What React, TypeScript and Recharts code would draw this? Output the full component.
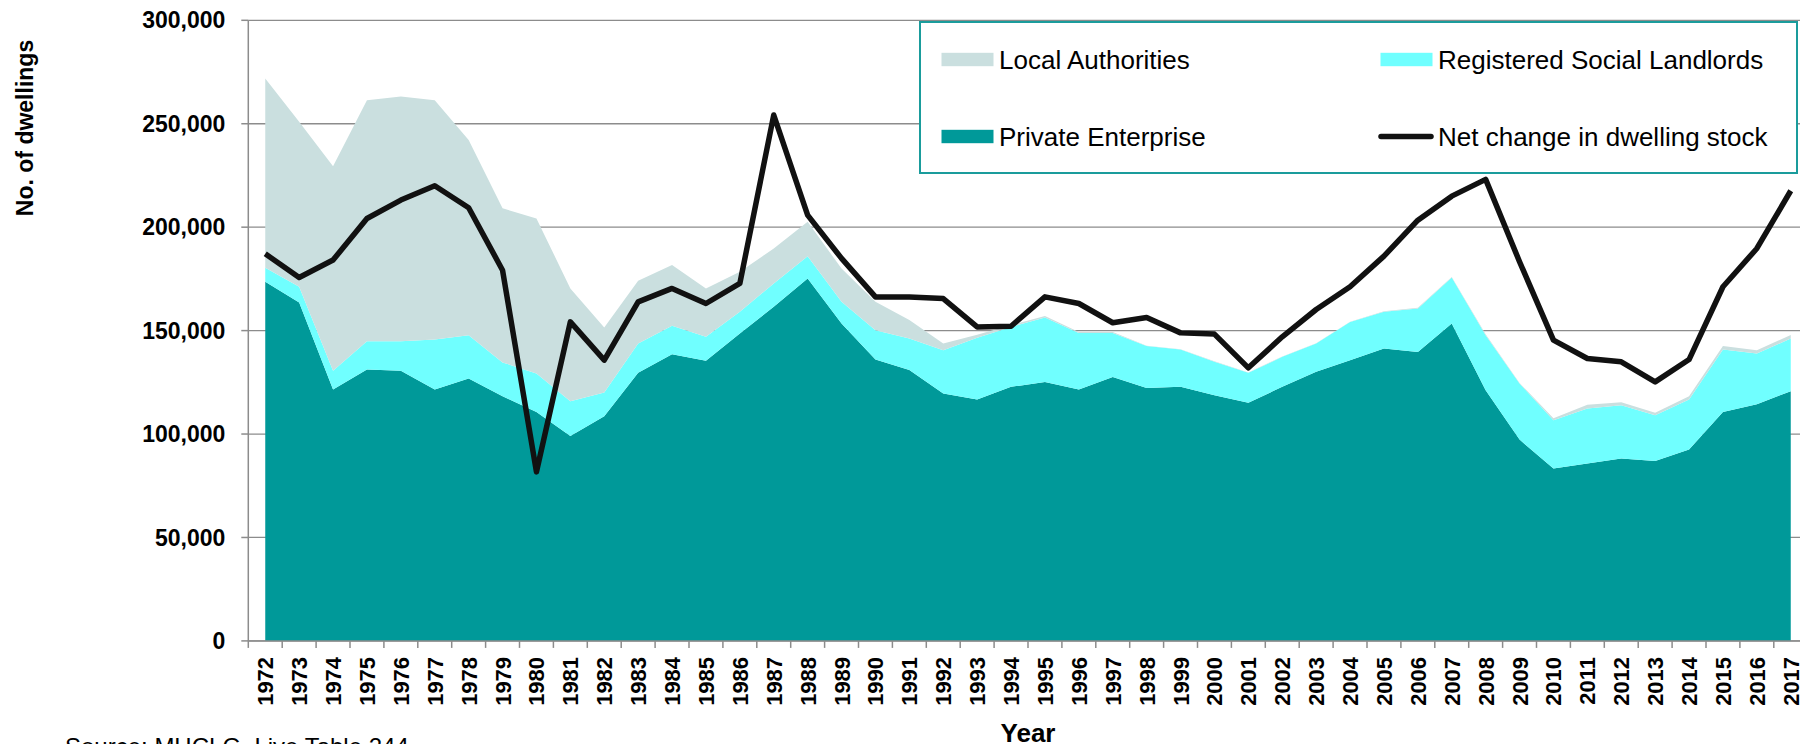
import React from 'react';
import { ComposedChart, Area, Line, XAxis, YAxis, CartesianGrid, Legend, Label } from 'recharts';

const years = [
  '1972', '1973', '1974', '1975', '1976', '1977', '1978', '1979', '1980', '1981', '1982',
  '1983', '1984', '1985', '1986', '1987', '1988', '1989', '1990', '1991', '1992', '1993',
  '1994', '1995', '1996', '1997', '1998', '1999', '2000', '2001', '2002', '2003', '2004',
  '2005', '2006', '2007', '2008', '2009', '2010', '2011', '2012', '2013', '2014', '2015', '2016', '2017',
];

const privateEnterprise = [
  173600, 163600, 121500, 131200, 130600, 121500, 126800, 118300, 110700, 99000, 108600,
  129600, 138600, 135400, 148600, 161500, 175200, 153400, 136000, 130900, 119600, 116700,
  122800, 125200, 121500, 127600, 122300, 122800, 118800, 115100, 122800, 130100, 135700,
  141300, 139700, 153400, 121200, 97300, 83300, 85700, 88200, 87000, 92500, 110700, 114400, 120700,
];

const socialLandlords = [
  6800, 7600, 9100, 13700, 14300, 24200, 21000, 16300, 18600, 16900, 11500,
  14200, 13700, 11600, 10500, 11300, 10800, 10500, 14200, 15300, 20900, 29800,
  29000, 31100, 27400, 21300, 20200, 18100, 16100, 14500, 14500, 13700, 18500,
  17800, 21000, 22300, 26600, 27100, 23400, 26600, 25700, 22100, 24200, 30200, 24500, 25500,
];

const localAuthorities = [
  91500, 79800, 98900, 116400, 118300, 115700, 94300, 74500, 74900, 54500, 31400,
  30300, 29400, 23400, 19300, 16900, 16600, 16100, 13700, 8900, 3300, 1500,
  900, 800, 400, 400, 200, 100, 300, 100, 200, 100, 100,
  200, 300, 200, 400, 300, 900, 1900, 1500, 1200, 1600, 1700, 1600, 1700,
];

const netChange = [
  187100, 175700, 184100, 204200, 213100, 220000, 209400, 179200, 81700, 154200, 135700,
  163900, 170400, 163100, 172800, 254200, 205800, 184900, 166300, 166300, 165500, 151800,
  152100, 166300, 163100, 153800, 156300, 148900, 148300, 132000, 147000, 160200, 171200,
  186000, 203400, 215000, 223100, 183300, 145400, 136500, 134900, 125200, 136000, 171200, 189700, 217600,
];

const yTicks = [0, 50000, 100000, 150000, 200000, 250000, 300000];

const data = years.map((year, i) => ({
  year,
  pe: privateEnterprise[i],
  rsl: socialLandlords[i],
  la: localAuthorities[i],
  net: netChange[i],
}));

const FONT = '"Liberation Sans", Arial, sans-serif';
const GREY = '#8c8c8c';
const CHART_W = 1820;
const CHART_H = 760;
const LEFT = 248.3;
const RIGHT_MARGIN = 12.3;
const BAND = (CHART_W - LEFT - RIGHT_MARGIN) / years.length;

const XTick = (props: any) => {
  const { x, y, payload } = props;
  const bx = x - BAND / 2;
  const ty = y + 16;
  return (
    <g>
      <line x1={bx} y1={y} x2={bx} y2={y + 7} stroke={GREY} strokeWidth={1.5} />
      <text
        x={x}
        y={ty}
        dy={8}
        transform={`rotate(-90 ${x} ${ty})`}
        textAnchor="end"
        fontFamily={FONT}
        fontWeight="bold"
        fontSize={22}
        fill="#000"
      >
        {payload.value}
      </text>
    </g>
  );
};

// legend laid out as in the original: two columns, two rows
const slots: Record<string, { x: number; y: number }> = {
  la: { x: 22.5, y: 38.5 },
  rsl: { x: 461.5, y: 38.5 },
  pe: { x: 22.5, y: 115.5 },
  net: { x: 461.5, y: 115.5 },
};

const renderLegend = (props: any) => {
  const { payload } = props;
  return (
    <svg width={880} height={154} style={{ display: 'block' }}>
      <rect x={1} y={1} width={877} height={151} fill="#fff" stroke="#1a9c9c" strokeWidth={2} />
      {payload.map((entry: any) => {
        const s = slots[entry.dataKey];
        if (!s) return null;
        return (
          <g key={entry.dataKey}>
            {entry.dataKey === 'net' ? (
              <line x1={462} y1={s.y} x2={512} y2={s.y} stroke={entry.color} strokeWidth={5.5} strokeLinecap="round" />
            ) : (
              <rect x={s.x} y={s.y - 6.7} width={52} height={13.4} fill={entry.color} />
            )}
            <text x={s.x + 57.5} y={s.y + 9} fontFamily={FONT} fontSize={26} fill="#000">
              {entry.value}
            </text>
          </g>
        );
      })}
    </svg>
  );
};

export default function App() {
  return (
    <div style={{ position: 'absolute', left: 0, top: 0, width: 1800, height: 744, overflow: 'hidden', background: '#fff' }}>
      <ComposedChart
        width={CHART_W}
        height={CHART_H}
        data={data}
        margin={{ top: 20.3, right: RIGHT_MARGIN, left: 0, bottom: 19.1 }}
      >
        <CartesianGrid vertical={false} stroke={GREY} strokeWidth={1.3} />
        <XAxis
          dataKey="year"
          scale="band"
          interval={0}
          height={100}
          tickSize={0}
          tickMargin={0}
          tickLine={false}
          axisLine={{ stroke: GREY, strokeWidth: 1.5 }}
          tick={<XTick />}
        >
          <Label
            content={() => (
              <text x={1028} y={741.5} textAnchor="middle" fontFamily={FONT} fontWeight="bold" fontSize={26} fill="#000">
                Year
              </text>
            )}
          />
        </XAxis>
        <YAxis
          width={LEFT}
          domain={[0, 300000]}
          ticks={yTicks}
          interval={0}
          tickSize={7}
          tickMargin={16}
          tickLine={{ stroke: GREY, strokeWidth: 1.5 }}
          axisLine={{ stroke: GREY, strokeWidth: 1.5 }}
          tickFormatter={(v: number) => v.toLocaleString('en-GB')}
          tick={{ fontFamily: FONT, fontWeight: 'bold', fontSize: 23, fill: '#000' }}
        >
          <Label
            content={() => (
              <g>
                <text
                  x={33.3}
                  y={128}
                  transform="rotate(-90 33.3 128)"
                  textAnchor="middle"
                  fontFamily={FONT}
                  fontWeight="bold"
                  fontSize={23}
                  fill="#000"
                >
                  No. of dwellings
                </text>
                <text x={65} y={755} fontFamily={FONT} fontSize={24} fill="#000">
                  Source: MHCLG, Live Table 244
                </text>
              </g>
            )}
          />
        </YAxis>
        <Legend
          layout="horizontal"
          verticalAlign="middle"
          align="center"
          content={renderLegend}
          wrapperStyle={{ left: 918.5, top: 21, width: 880, height: 154 }}
        />
        <Area type="linear" dataKey="pe" name="Private Enterprise" stackId="a" fill="#009999" stroke="none" fillOpacity={1} isAnimationActive={false} />
        <Area type="linear" dataKey="rsl" name="Registered Social Landlords" stackId="a" fill="#70ffff" stroke="none" fillOpacity={1} isAnimationActive={false} />
        <Area type="linear" dataKey="la" name="Local Authorities" stackId="a" fill="#cadfdf" stroke="none" fillOpacity={1} isAnimationActive={false} />
        <Line type="linear" dataKey="net" name="Net change in dwelling stock" stroke="#111111" strokeWidth={5.5} strokeLinejoin="round" dot={false} isAnimationActive={false} />
      </ComposedChart>
    </div>
  );
}
